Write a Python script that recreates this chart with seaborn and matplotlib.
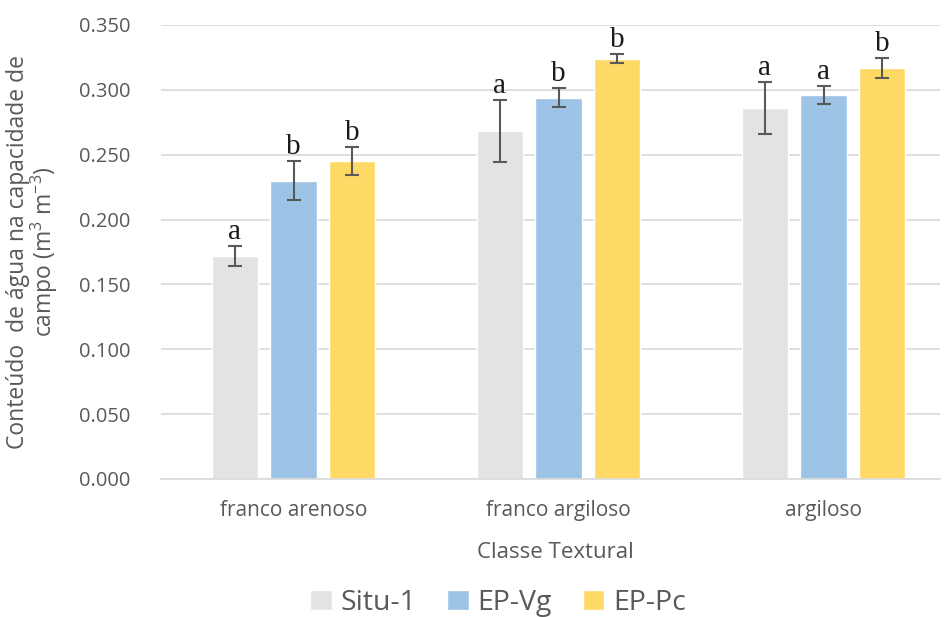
import matplotlib
matplotlib.use("Agg")
import matplotlib.pyplot as plt
import seaborn as sns
import pandas as pd

# ---- data ----
categories = ["franco arenoso", "franco argiloso", "argiloso"]
series = ["Situ-1", "EP-Vg", "EP-Pc"]
situ_vals = [0.172, 0.268, 0.286]
vg_vals = [0.230, 0.294, 0.296]
pc_vals = [0.245, 0.324, 0.317]
situ_err = [0.0075, 0.024, 0.020]
vg_err = [0.015, 0.0075, 0.007]
pc_err = [0.011, 0.0035, 0.0075]
situ_letters = ["a", "a", "a"]
vg_letters = ["b", "b", "a"]
pc_letters = ["b", "b", "b"]
yticks = [0.000, 0.050, 0.100, 0.150, 0.200, 0.250, 0.300, 0.350]

colors = {"Situ-1": "#E3E3E3", "EP-Vg": "#9DC3E6", "EP-Pc": "#FFD966"}
text_color = "#595959"

rows = []
for s, vals, errs, lets in [("Situ-1", situ_vals, situ_err, situ_letters),
                            ("EP-Vg", vg_vals, vg_err, vg_letters),
                            ("EP-Pc", pc_vals, pc_err, pc_letters)]:
    for c, v, e, l in zip(categories, vals, errs, lets):
        rows.append({"classe": c, "serie": s, "valor": v, "erro": e, "letra": l})
df = pd.DataFrame(rows)

sns.set_theme(style="white")
plt.rcParams["font.family"] = ["Open Sans", "DejaVu Sans"]
plt.rcParams["mathtext.default"] = "regular"

fig = plt.figure(figsize=(9.44, 6.17), dpi=100)
W, H = 944, 617
ax = fig.add_axes([161 / W, 138 / H, (940 - 161) / W, 454 / H])

sns.barplot(data=df, x="classe", y="valor", hue="serie", order=categories,
            hue_order=series, palette=colors, width=0.663, gap=0.2,
            errorbar=None, saturation=1, ax=ax, zorder=2)

# error bars and letters
for cont, s in zip(ax.containers, series):
    sub = df[df["serie"] == s].set_index("classe").loc[categories]
    xs = [p.get_x() + p.get_width() / 2 for p in cont.patches]
    ys = sub["valor"].tolist()
    es = sub["erro"].tolist()
    ax.errorbar(xs, ys, yerr=es, fmt="none", ecolor="#595959",
                elinewidth=1.5, capsize=5, capthick=1.5, zorder=3)
    for x, y, e, l in zip(xs, ys, es, sub["letra"].tolist()):
        ax.annotate(l, (x, y + e), xytext=(0, 5), textcoords="offset points",
                    ha="center", va="baseline", fontsize=21,
                    family=["Liberation Serif", "DejaVu Serif"], color="#1a1a1a")

ax.set_ylim(0, 0.35)
ax.set_xlim(-0.5, -0.5 + 779 / 265)
ax.set_yticks(yticks)
ax.set_yticklabels([f"{t:.3f}" for t in yticks], fontsize=14.5, color=text_color)
ax.tick_params(axis="y", length=0, pad=22)
ax.tick_params(axis="x", length=0, pad=15, labelsize=15, labelcolor=text_color)
ax.yaxis.grid(True, color="#D9D9D9", linewidth=1.2, zorder=0)
ax.set_axisbelow(True)
for sp in ["top", "right", "left"]:
    ax.spines[sp].set_visible(False)
ax.spines["bottom"].set_color("#D9D9D9")
ax.spines["bottom"].set_linewidth(1.2)

ax.set_xlabel("")
ax.set_ylabel("")
fig.text(555 / W, 1 - 552 / H, "Classe Textural", ha="center", va="center",
         fontsize=16, color=text_color)
fig.text(33 / W, 1 - 252 / H,
         "Conteúdo  de água na capacidade de\ncampo (m$^3$ m$^{-3}$)",
         rotation=90, ha="center", va="center", multialignment="center",
         fontsize=16.5, color=text_color, linespacing=0.95)

handles, labels = ax.get_legend_handles_labels()
if ax.get_legend() is not None:
    ax.get_legend().remove()
fig.legend(handles, labels, loc="center", bbox_to_anchor=(498 / W, 1 - 603 / H),
           ncol=3, frameon=False, fontsize=20.5, handlelength=0.75, handleheight=0.75,
           handletextpad=0.3, columnspacing=1.1, labelcolor=text_color)

fig.savefig("out.png", dpi=100)
